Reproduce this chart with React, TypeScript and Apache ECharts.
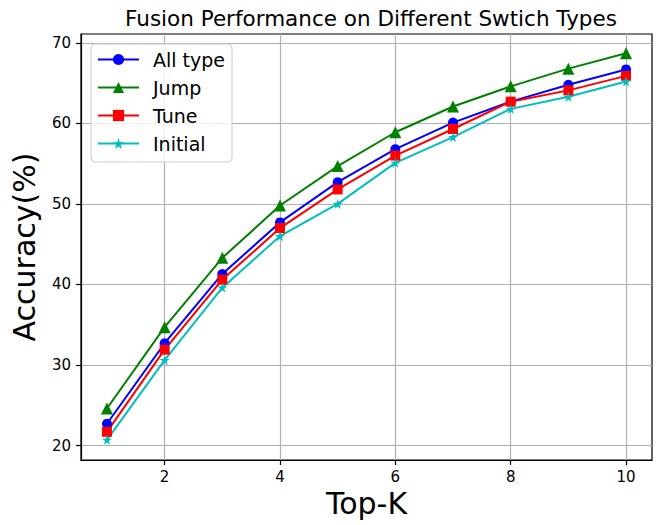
import React, { useEffect, useRef } from "react";
import * as echarts from "echarts";

const topK = [1, 2, 3, 4, 5, 6, 7, 8, 9, 10];
const allType = [22.7, 32.7, 41.3, 47.7, 52.7, 56.8, 60.1, 62.7, 64.8, 66.7];
const jump = [24.6, 34.7, 43.3, 49.8, 54.7, 58.9, 62.1, 64.6, 66.8, 68.7];
const tune = [21.7, 31.9, 40.6, 47.0, 51.8, 56.0, 59.3, 62.7, 64.1, 65.9];
const initial = [20.7, 30.6, 39.6, 46.0, 50.0, 55.1, 58.3, 61.8, 63.3, 65.2];
const xTicks = [2, 4, 6, 8, 10];
const yTicks = [20, 30, 40, 50, 60, 70];

const FONT = "DejaVu Sans";

export default function App() {
  const ref = useRef<HTMLDivElement>(null);
  useEffect(() => {
    if (!ref.current) return;
    const chart = echarts.init(ref.current, undefined, { renderer: "svg" });
    const mk = (name: string, vals: number[], color: string, symbol: string, size: number) => ({
      name,
      type: "line",
      data: topK.map((k, i) => [k, vals[i]]),
      symbol,
      symbolSize: size,
      showSymbol: true,
      lineStyle: { color, width: 2 },
      itemStyle: { color, borderWidth: 0 },
      emphasis: { disabled: true },
    });
    chart.setOption({
      animation: false,
      backgroundColor: "#ffffff",
      title: {
        text: "Fusion Performance on Different Swtich Types",
        left: 366,
        textAlign: "center",
        top: 2,
        textStyle: { fontFamily: FONT, fontSize: 21.5, fontWeight: "normal", color: "#000" },
      },
      grid: {
        left: 81,
        top: 34,
        width: 571,
        height: 426,
        show: true,
        borderColor: "#000",
        borderWidth: 1.2,
      },
      legend: {
        orient: "vertical",
        left: 91,
        top: 44,
        data: ["All type", "Jump", "Tune", "Initial"],
        itemWidth: 41,
        itemHeight: 14,
        itemGap: 9,
        padding: [6, 7, 9, 6],
        borderColor: "#cccccc",
        borderWidth: 1,
        borderRadius: 4,
        backgroundColor: "rgba(255,255,255,0.8)",
        textStyle: { fontFamily: FONT, fontSize: 19, color: "#000", padding: [0, 0, 0, 9] },
      },
      xAxis: {
        type: "value",
        min: 0.55,
        max: 10.45,
        name: "Top-K",
        nameLocation: "middle",
        nameGap: 27,
        nameTextStyle: { fontFamily: FONT, fontSize: 30, color: "#000" },
        axisLine: { show: true, lineStyle: { color: "#000", width: 1.2 } },
        axisTick: { show: true, length: 5, customValues: xTicks, lineStyle: { color: "#000", width: 1.2 } },
        axisLabel: { customValues: xTicks, fontFamily: FONT, fontSize: 15, color: "#000", margin: 9 },
        splitLine: { show: true, lineStyle: { color: "#b0b0b0", width: 1.2 } },
      },
      yAxis: {
        type: "value",
        min: 18.2,
        max: 71.1,
        name: "Accuracy(%)",
        nameLocation: "middle",
        nameGap: 42,
        nameRotate: 90,
        nameTextStyle: { fontFamily: FONT, fontSize: 30, color: "#000" },
        axisLine: { show: true, lineStyle: { color: "#000", width: 1.2 } },
        axisTick: { show: true, length: 5, customValues: yTicks, lineStyle: { color: "#000", width: 1.2 } },
        axisLabel: { customValues: yTicks, fontFamily: FONT, fontSize: 15, color: "#000", margin: 10 },
        splitLine: { show: true, lineStyle: { color: "#b0b0b0", width: 1.2 } },
      },
      series: [
        mk("All type", allType, "#0000ff", "circle", 10),
        mk("Jump", jump, "#008000", "triangle", 12),
        mk("Tune", tune, "#ff0000", "rect", 10),
        mk("Initial", initial, "#00bfbf", "path://M50,0 L61.8,35.4 L100,35.4 L69.1,57.3 L80.9,92.7 L50,70.8 L19.1,92.7 L30.9,57.3 L0,35.4 L38.2,35.4 Z", 10),
      ],
    });
    return () => chart.dispose();
  }, []);
  return <div ref={ref} style={{ position: "fixed", left: 0, top: 0, width: 667, height: 525 }} />;
}
